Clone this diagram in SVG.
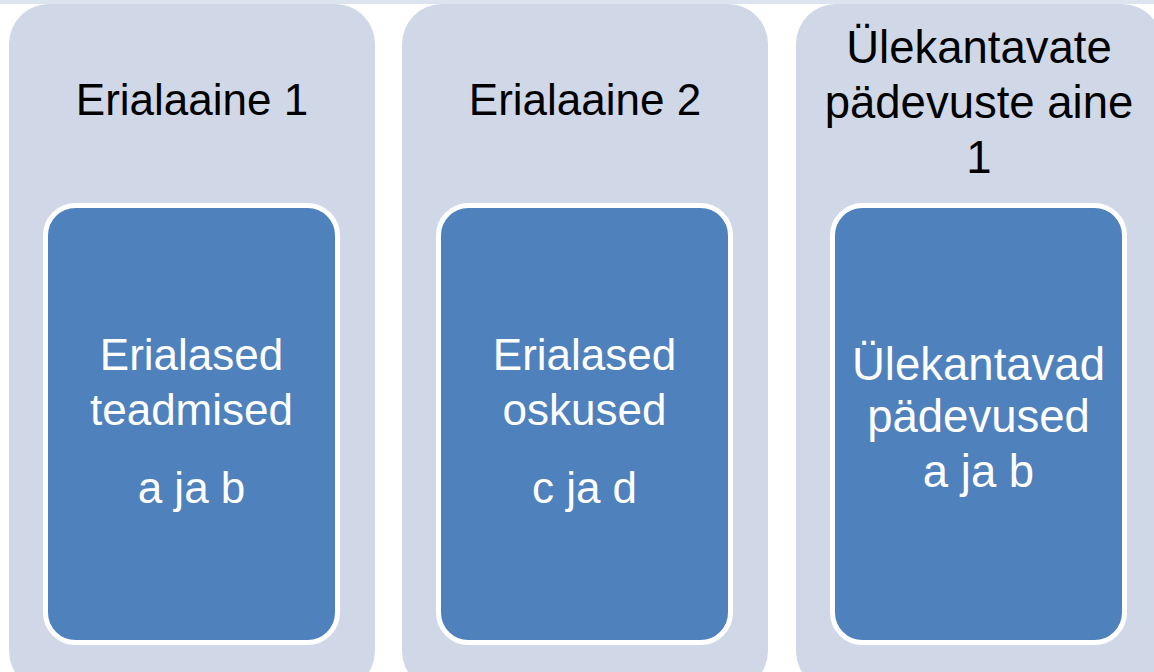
<svg xmlns="http://www.w3.org/2000/svg" width="1154" height="672" viewBox="0 0 1154 672">
  <style>
    .col { fill: #d0d8e8; }
    .inner { fill: #4f81bd; stroke: #ffffff; stroke-width: 5; }
    .t { font-family: "Liberation Sans", Arial, sans-serif; font-size: 44px; text-anchor: middle; }
    .w { font-size: 45.5px; }
    .dark { fill: #000000; }
    .light { fill: #ffffff; }
  </style>
  <rect x="0" y="0" width="1154" height="672" fill="#ffffff"/>
  <rect x="0" y="0" width="1154" height="4" fill="#dce4f0"/>
  <g id="col1">
    <rect class="col" x="9" y="4" width="366" height="687" rx="40" ry="40"/>
    <text class="t dark" x="192" y="115">Erialaaine 1</text>
  </g>
  <g id="col2">
    <rect class="col" x="402" y="4" width="366" height="687" rx="40" ry="40"/>
    <text class="t dark" x="585" y="115">Erialaaine 2</text>
  </g>
  <g id="col3">
    <rect class="col" x="796" y="4" width="366" height="687" rx="40" ry="40"/>
    <text class="t w dark" x="979" y="63">Ülekantavate</text>
    <text class="t w dark" x="979" y="118">pädevuste aine</text>
    <text class="t w dark" x="979" y="173">1</text>
  </g>
  <g id="inner1">
    <rect class="inner" x="45.5" y="205.5" width="292" height="437" rx="30" ry="30"/>
    <text class="t light" x="191.5" y="370">Erialased</text>
    <text class="t light" x="191.5" y="425">teadmised</text>
    <text class="t light" x="191.5" y="503">a ja b</text>
  </g>
  <g id="inner2">
    <rect class="inner" x="438.5" y="205.5" width="292" height="437" rx="30" ry="30"/>
    <text class="t light" x="584.5" y="370">Erialased</text>
    <text class="t light" x="584.5" y="425">oskused</text>
    <text class="t light" x="584.5" y="503">c ja d</text>
  </g>
  <g id="inner3">
    <rect class="inner" x="832.5" y="205.5" width="292" height="437" rx="30" ry="30"/>
    <text class="t w light" x="978.5" y="380">Ülekantavad</text>
    <text class="t w light" x="978.5" y="432">pädevused</text>
    <text class="t w light" x="978.5" y="487">a ja b</text>
  </g>
  <g id="connectors"></g>
</svg>
